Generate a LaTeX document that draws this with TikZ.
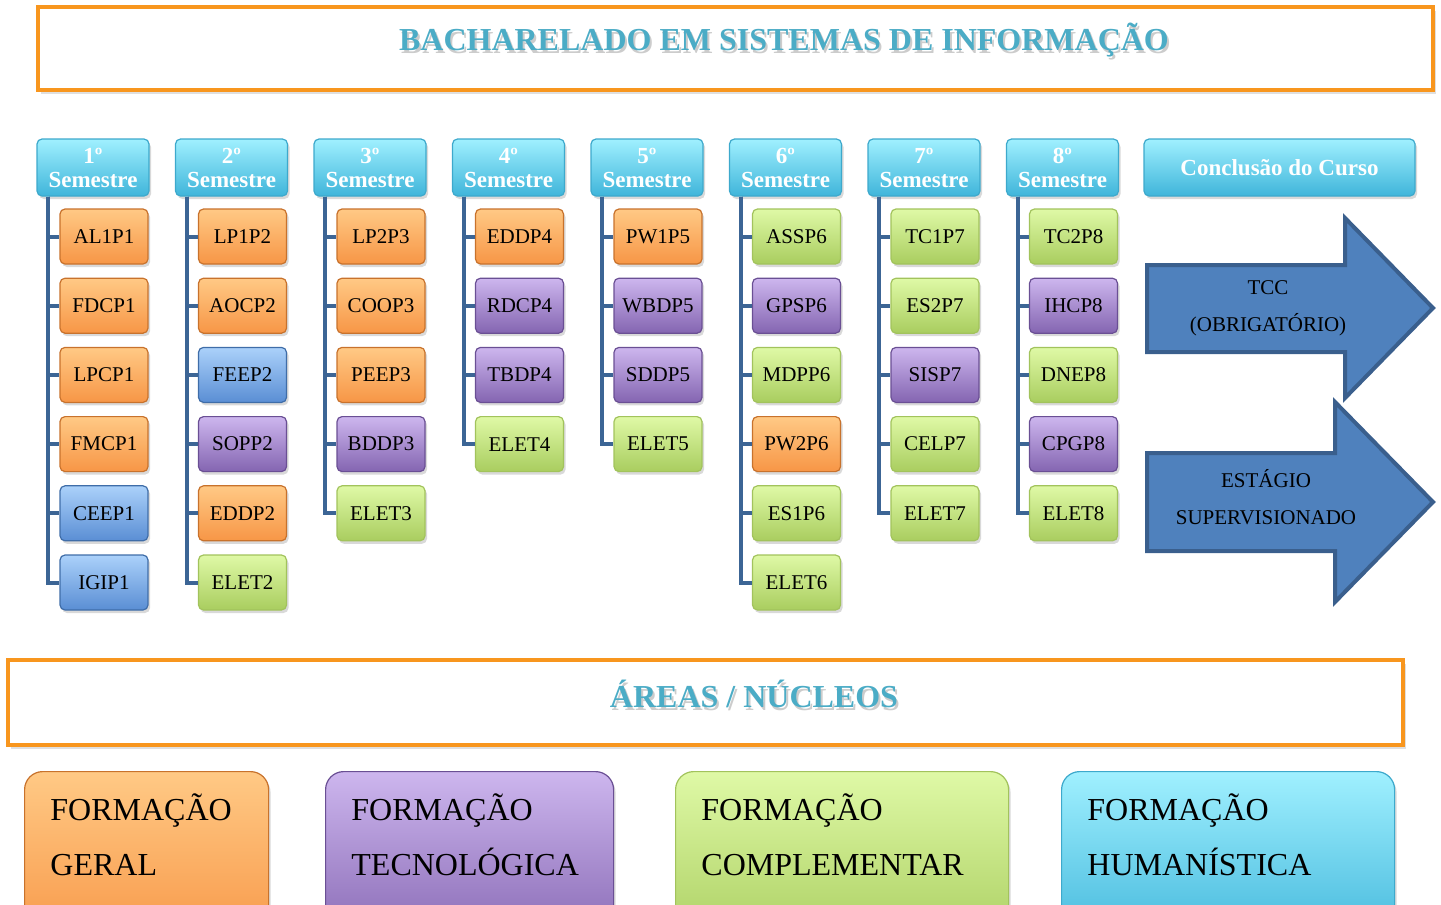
\documentclass[tikz,border=0pt]{standalone}
\usepackage{fontspec}
\setmainfont{Liberation Serif}
\usetikzlibrary{shadows}

\definecolor{tituloazul}{HTML}{4BACC6}
\definecolor{molduralaranja}{HTML}{F8961E}
\definecolor{tronco}{HTML}{3C6595}
\definecolor{laranjatopo}{HTML}{FFC985}
\definecolor{laranjabase}{HTML}{F79646}
\definecolor{laranjaborda}{HTML}{C8722C}
\definecolor{azultopo}{HTML}{ABD1FA}
\definecolor{azulbase}{HTML}{5A8ED4}
\definecolor{azulborda}{HTML}{3F6DA8}
\definecolor{roxotopo}{HTML}{CDB6EE}
\definecolor{roxobase}{HTML}{8465B1}
\definecolor{roxoborda}{HTML}{6A4F94}
\definecolor{verdetopo}{HTML}{DFF9A6}
\definecolor{verdebase}{HTML}{A9CD5F}
\definecolor{verdeborda}{HTML}{A2C35C}
\definecolor{cianotopo}{HTML}{A0F0FF}
\definecolor{cianobase}{HTML}{3FB5DA}
\definecolor{cianoborda}{HTML}{3DA9CC}
\definecolor{setafundo}{HTML}{4F81BD}
\definecolor{setaborda}{HTML}{3A5F8D}

\tikzset{
  sombra/.style={drop shadow={opacity=0.3, shadow xshift=1pt, shadow yshift=-1.5pt}},
  moldura/.style={draw=molduralaranja, line width=2pt, fill=white, inner sep=0pt,
    drop shadow={opacity=0.25, shadow xshift=1.5pt, shadow yshift=-2pt}},
  titulo/.style={text=tituloazul, font=\bfseries\fontsize{16}{18}\selectfont, inner sep=0pt},
  semestre/.style={draw=cianoborda, line width=0.6pt, rounded corners=2.5pt,
    top color=cianotopo, bottom color=cianobase, minimum width=56pt, minimum height=28.5pt,
    text=white, align=center, inner sep=0pt, font=\bfseries\fontsize{11.5}{12}\selectfont, sombra},
  materia/.style={line width=0.6pt, rounded corners=2.5pt, minimum width=44pt,
    minimum height=27.5pt, inner sep=0pt, font=\fontsize{10.5}{12}\selectfont, sombra},
  laranja/.style={draw=laranjaborda, top color=laranjatopo, bottom color=laranjabase},
  azul/.style={draw=azulborda, top color=azultopo, bottom color=azulbase},
  roxo/.style={draw=roxoborda, top color=roxotopo, bottom color=roxobase},
  verde/.style={draw=verdeborda, top color=verdetopo, bottom color=verdebase},
  ligacao/.style={draw=tronco, line width=2pt},
  seta/.style={draw=setaborda, fill=setafundo, line width=2pt, line join=miter},
  rotuloseta/.style={align=center, inner sep=0pt, font=\fontsize{10.5}{18.5}\selectfont},
  area/.style={line width=0.6pt, rounded corners=9pt, minimum height=90pt, anchor=north west, sombra},
  textoarea/.style={anchor=west, align=left, inner sep=0pt, font=\fontsize{16}{27.5}\selectfont}
}

\begin{document}
\begin{tikzpicture}[x=0.5pt,y=-0.5pt]
\path[use as bounding box, clip] (0,0) rectangle (1441,905);

% titulo
\node[moldura, minimum width=697.5pt, minimum height=41.5pt] (topo) at (735.5,48.5) {};
\node[titulo, text=black, opacity=0.2] (titsombra) at (786,43) {BACHARELADO EM SISTEMAS DE INFORMAÇÃO};
\node[titulo] (tit) at (784,40) {BACHARELADO EM SISTEMAS DE INFORMAÇÃO};

% semestres
\foreach \lista [count=\sem] in {
  {AL1P1/laranja,FDCP1/laranja,LPCP1/laranja,FMCP1/laranja,CEEP1/azul,IGIP1/azul},
  {LP1P2/laranja,AOCP2/laranja,FEEP2/azul,SOPP2/roxo,EDDP2/laranja,ELET2/verde},
  {LP2P3/laranja,COOP3/laranja,PEEP3/laranja,BDDP3/roxo,ELET3/verde},
  {EDDP4/laranja,RDCP4/roxo,TBDP4/roxo,ELET4/verde},
  {PW1P5/laranja,WBDP5/roxo,SDDP5/roxo,ELET5/verde},
  {ASSP6/verde,GPSP6/roxo,MDPP6/verde,PW2P6/laranja,ES1P6/verde,ELET6/verde},
  {TC1P7/verde,ES2P7/verde,SISP7/roxo,CELP7/verde,ELET7/verde},
  {TC2P8/verde,IHCP8/roxo,DNEP8/verde,CPGP8/roxo,ELET8/verde}}{
  \node[semestre] (s\sem) at ({93+138.5*(\sem-1)},167.5) {\sem º\\Semestre};
  \foreach \disc/\cor [count=\lin] in \lista {
    \node[materia,\cor] (m\sem-\lin) at ({104+138.5*(\sem-1)},{236.5+69.2*(\lin-1)}) {\disc};
    \draw[ligacao] ([xshift=6pt]s\sem.south west) |- (m\sem-\lin.west);
  }
}

% conclusao
\node[semestre, minimum width=135.5pt] (concl) at (1279.5,167.5) {Conclusão do Curso};
\draw[seta] (1147,265) -- (1345,265) -- (1345,218) -- (1433,308) -- (1345,398) -- (1345,352) -- (1147,352) -- cycle;
\node[rotuloseta] (tcc) at (1268,308.5) {TCC\\(OBRIGATÓRIO)};
\draw[seta] (1147,453) -- (1335,453) -- (1335,402) -- (1433,502) -- (1335,602) -- (1335,551) -- (1147,551) -- cycle;
\node[rotuloseta] (estagio) at (1266,497.5) {ESTÁGIO\\SUPERVISIONADO};

% areas
\node[moldura, minimum width=697.5pt, minimum height=42.5pt] (nucleos) at (705.5,702.5) {};
\node[titulo, text=black, opacity=0.2] (nucsombra) at (756,697) {ÁREAS / NÚCLEOS};
\node[titulo] (nuc) at (754,694) {ÁREAS / NÚCLEOS};

\node[area, minimum width=122pt, draw=laranjaborda, top color=laranjatopo, bottom color=laranjabase] (geral) at (24,771) {};
\node[textoarea] (tgeral) at ([xshift=13pt,yshift=-31.75pt]geral.north west) {FORMAÇÃO\\GERAL};
\node[area, minimum width=144pt, draw=roxoborda, top color=roxotopo, bottom color=roxobase] (tecno) at (325,771) {};
\node[textoarea] (ttecno) at ([xshift=13pt,yshift=-31.75pt]tecno.north west) {FORMAÇÃO\\TECNOLÓGICA};
\node[area, minimum width=166.5pt, draw=verdeborda, top color=verdetopo, bottom color=verdebase] (compl) at (675,771) {};
\node[textoarea] (tcompl) at ([xshift=13pt,yshift=-31.75pt]compl.north west) {FORMAÇÃO\\COMPLEMENTAR};
\node[area, minimum width=166.5pt, draw=cianoborda, top color=cianotopo, bottom color=cianobase] (human) at (1061,771) {};
\node[textoarea] (thuman) at ([xshift=13pt,yshift=-31.75pt]human.north west) {FORMAÇÃO\\HUMANÍSTICA};
\end{tikzpicture}
\end{document}
